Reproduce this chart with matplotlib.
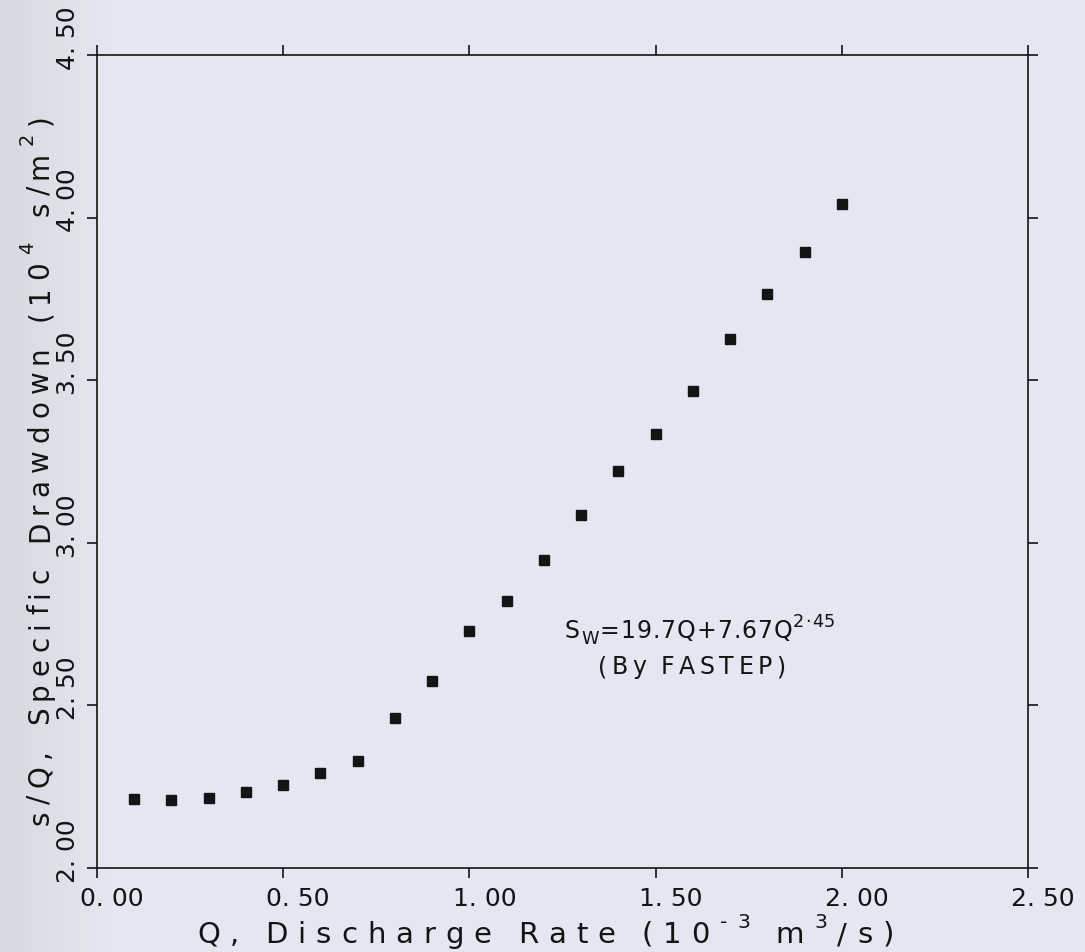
import numpy as np
import matplotlib
matplotlib.use("Agg")
import matplotlib.pyplot as plt
import matplotlib.transforms as mtransforms
from matplotlib.colors import LinearSegmentedColormap
from matplotlib.ticker import FuncFormatter

# discharge rate Q (10^-3 m3/s) and specific drawdown s/Q (10^4 s/m2)
q = [0.1, 0.2, 0.3, 0.4, 0.5, 0.6, 0.7, 0.8, 0.9, 1.0,
     1.1, 1.2, 1.3, 1.4, 1.5, 1.6, 1.7, 1.8, 1.9, 2.0]
sq = [2.211, 2.209, 2.214, 2.234, 2.254, 2.293, 2.329, 2.460, 2.575, 2.729,
      2.822, 2.947, 3.086, 3.222, 3.335, 3.466, 3.626, 3.764, 3.895, 4.041]

x_ticks = [0.0, 0.5, 1.0, 1.5, 2.0, 2.5]
y_ticks = [2.0, 2.5, 3.0, 3.5, 4.0, 4.5]

x_label = [("Q, Discharge Rate (10", 1.0, 0), ("-3", 0.7, 15), (" m", 1.0, 0), ("3", 0.7, 15), ("/s)", 1.0, 0)]
y_label = [("s/Q, Specific Drawdown (10", 1.0, 0), ("4", 0.7, 15), (" s/m", 1.0, 0), ("2", 0.7, 15), (")", 1.0, 0)]
eq_line1 = [("S", 1.0, 0), ("W", 0.75, -6), ("=19.7Q+7.67Q", 1.0, 0), ("2·45", 0.75, 11)]
eq_line2 = [("(By FASTEP)", 1.0, 0)]

BG = "#e2e7f1"
INK = "#141414"
W, H = 1085, 952

fig = plt.figure(figsize=(W / 100, H / 100), dpi=100)
fig.patch.set_facecolor(BG)

# scanned page: greyer towards the left edge
bg_ax = fig.add_axes([0, 0, 1, 1], zorder=-5)
bg_ax.axis("off")
grad = np.tile(np.clip(np.linspace(0, 1, W) * W / 110, 0, 1), (2, 1))
bg_ax.imshow(grad, aspect="auto", extent=[0, 1, 0, 1],
             cmap=LinearSegmentedColormap.from_list("page", ["#d6d9df", BG]))

ax = fig.add_axes([97 / W, 1 - 868 / H, (1028 - 97) / W, (868 - 55) / H])
ax.set_facecolor(BG)

ax.plot(q, sq, linestyle="none", marker="s", markersize=7, color=INK)

ax.set_xlim(0, 2.5)
ax.set_ylim(2.0, 4.5)
ax.set_xticks(x_ticks)
ax.set_yticks(y_ticks)
fmt = FuncFormatter(lambda v, p: "{:.2f}".format(v).replace(".", ". "))
ax.xaxis.set_major_formatter(fmt)
ax.yaxis.set_major_formatter(fmt)

for s in ax.spines.values():
    s.set_linewidth(1.2)
    s.set_color(INK)
ax.tick_params(direction="out", length=7, width=1.2, color=INK, labelsize=18,
               labelcolor=INK, top=True, right=True)
ax.tick_params(axis="x", pad=7)
ax.tick_params(axis="y", pad=5, labelrotation=90)

# plotter labels sit a bit off their ticks
for lab in ax.get_xticklabels():
    lab.set_transform(lab.get_transform() + mtransforms.ScaledTranslation(0.15, 0, fig.dpi_scale_trans))
for lab in ax.get_yticklabels():
    lab.set_va("center")
    lab.set_transform(lab.get_transform() + mtransforms.ScaledTranslation(0, 0.17, fig.dpi_scale_trans))


def lettered(segments, x0, y0, size, track, space, vertical=False):
    """Write text letter by letter with extra spacing, like a pen plotter.
    x0, y0 are pixels from the top-left corner (baseline start)."""
    r = fig.canvas.get_renderer()
    pos = 0.0
    for text, scale, shift in segments:
        for ch in text:
            if ch == " ":
                pos += space
                continue
            if vertical:
                x, y, rot = x0 - shift, y0 - pos, 90
            else:
                x, y, rot = x0 + pos, y0 - shift, 0
            t = fig.text(x / 100, (H - y) / 100, ch, transform=fig.dpi_scale_trans,
                         fontsize=size * scale, rotation=rot, rotation_mode="anchor",
                         ha="left", va="baseline", color=INK)
            bb = t.get_window_extent(r)
            pos += (bb.height if vertical else bb.width) + track


lettered(x_label, 197, 943, 21, 10, 16)
lettered(y_label, 48, 825, 20, 7, 18, vertical=True)
lettered(eq_line1, 565, 638, 17, 1, 8)
lettered(eq_line2, 598, 674, 17, 4.5, 10)

fig.savefig("out.png", dpi=100, facecolor=BG)
